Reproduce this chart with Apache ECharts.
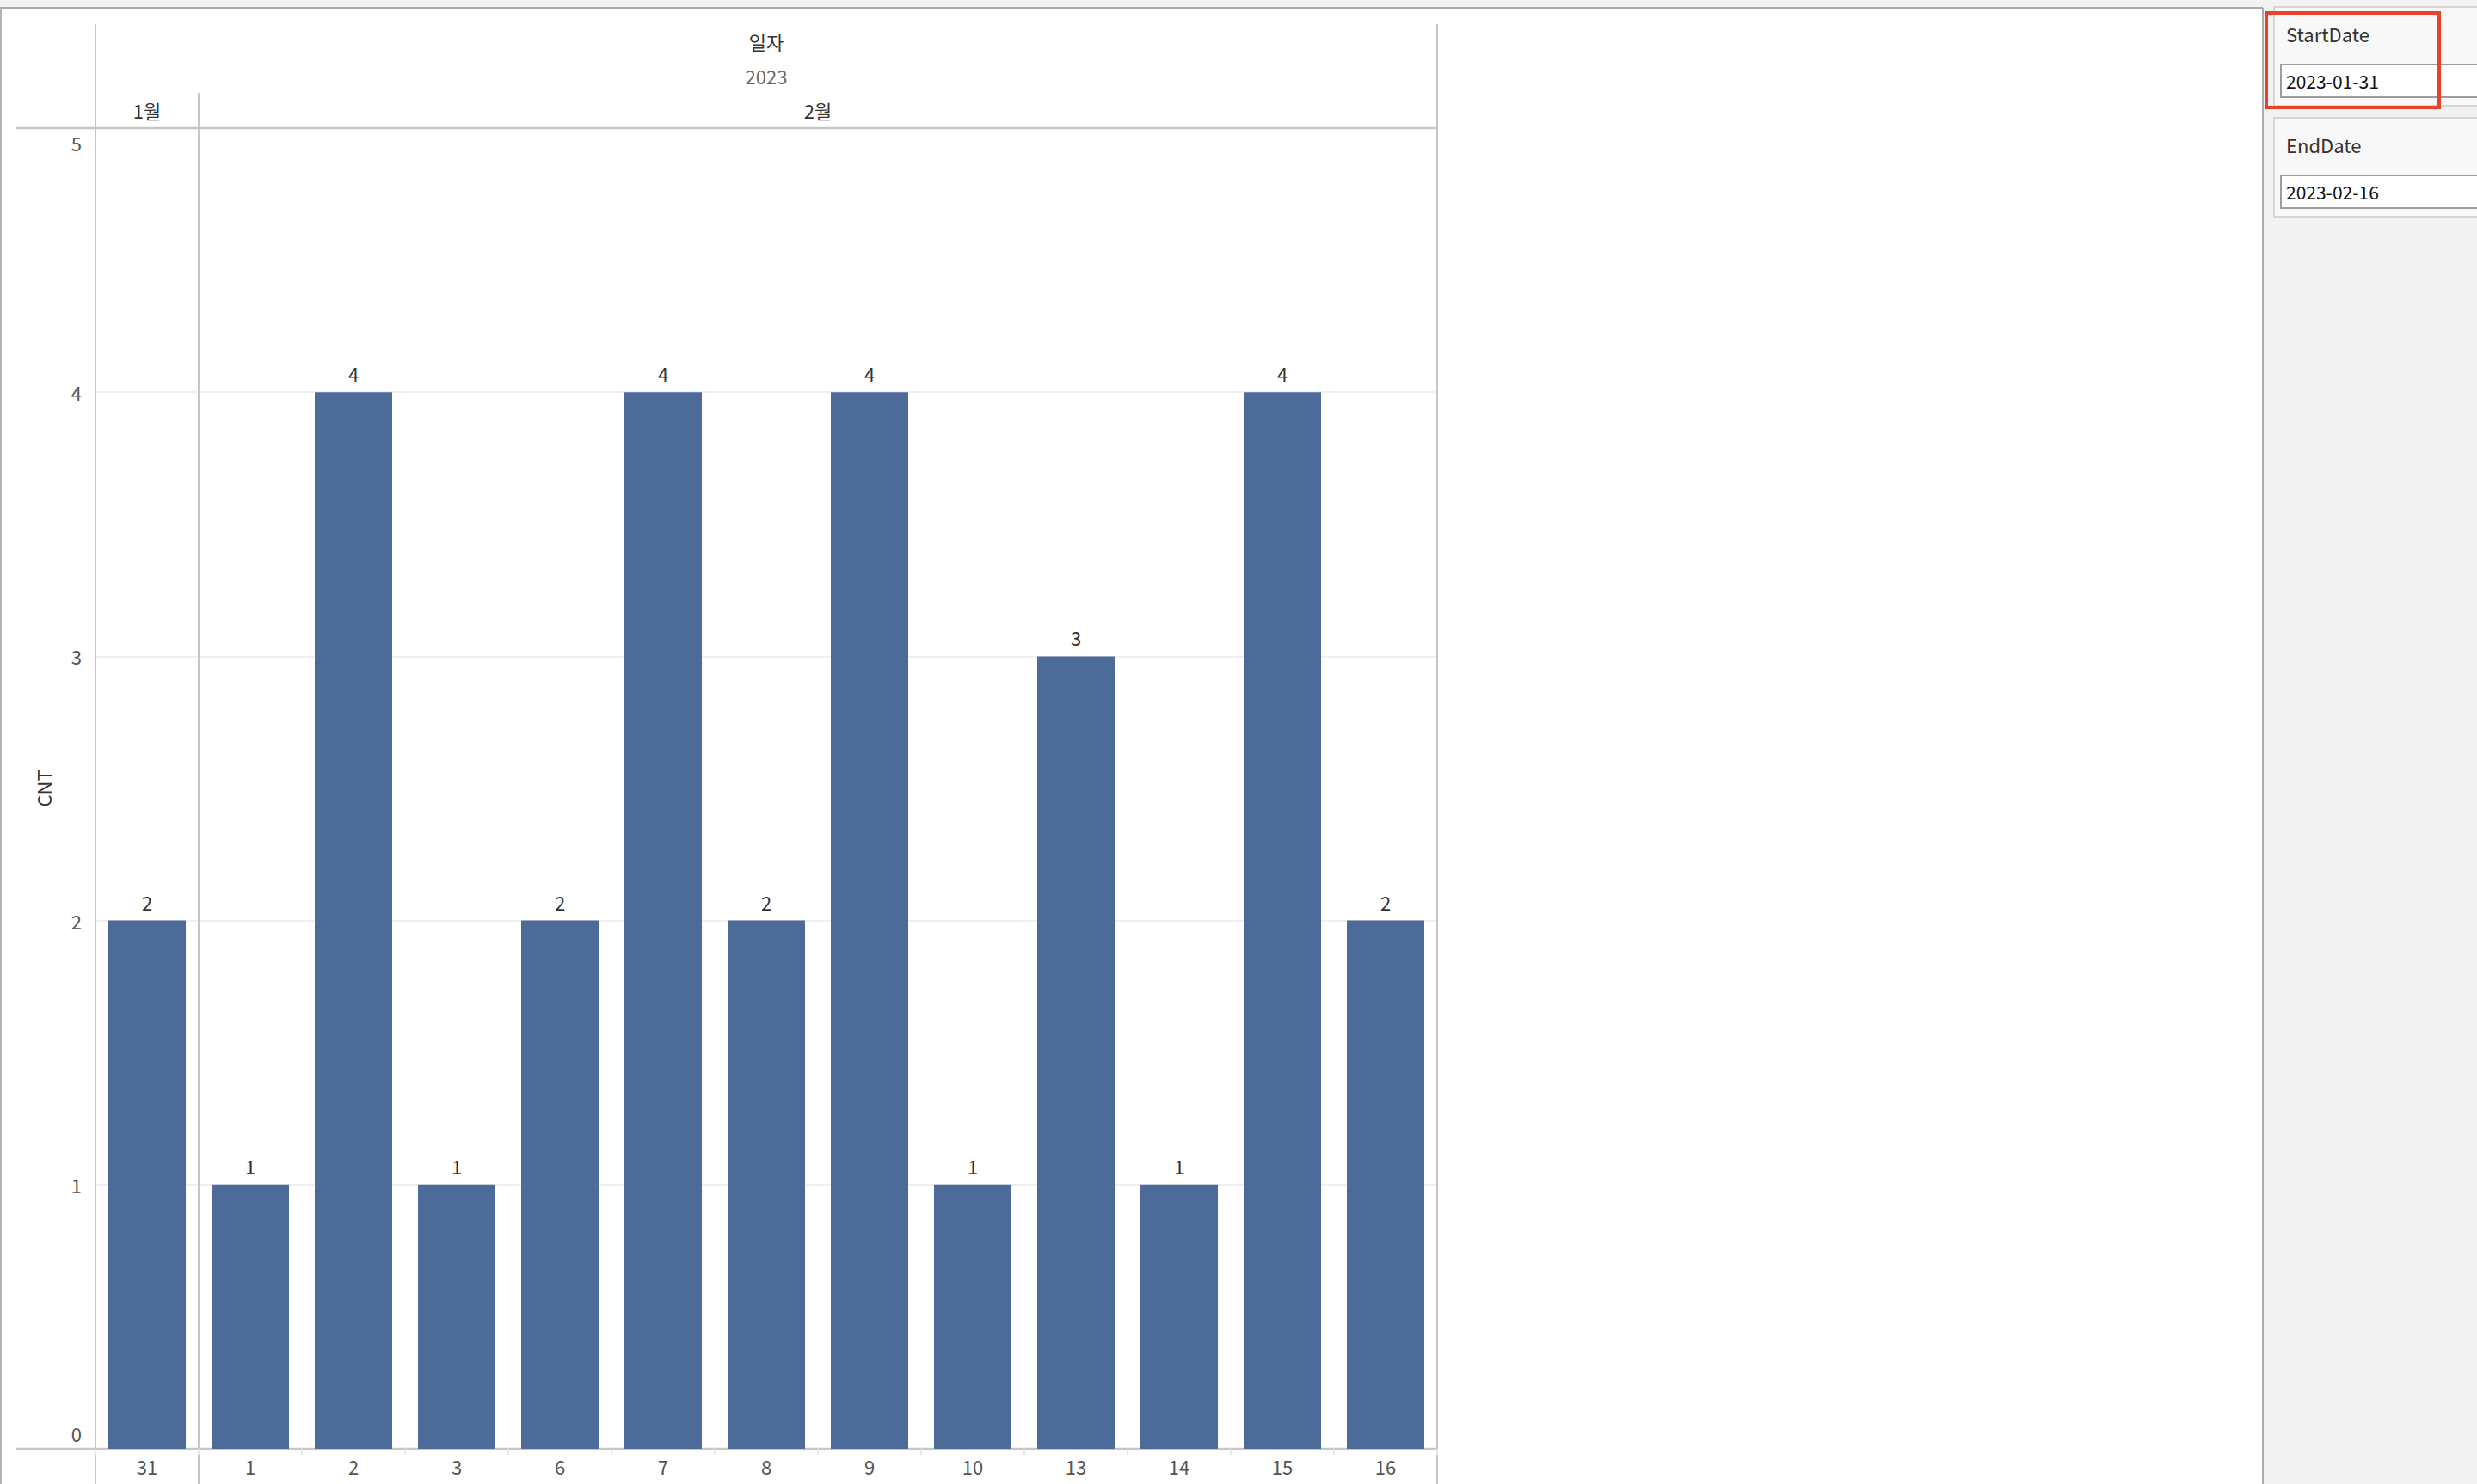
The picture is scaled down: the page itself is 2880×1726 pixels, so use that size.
<!DOCTYPE html>
<html>
<head>
<meta charset="utf-8">
<script src="https://cdn.jsdelivr.net/npm/echarts@6/dist/echarts.min.js"></script>
<style>
html,body{margin:0;padding:0;background:#fff;}
#c{width:2880px;height:1726px;}
</style>
</head>
<body>
<div id="c"></div>
<script>
// ---- data ----
const days = ['31','1','2','3','6','7','8','9','10','13','14','15','16'];
const dayMonth = [0,1,1,1,1,1,1,1,1,1,1,1,1];
const months = ['1월','2월'];
const year = '2023';
const headerTitle = '일자';
const cnt = [2,1,4,1,2,4,2,4,1,3,1,4,2];
const yTicks = [0,1,2,3,4,5];
const startDate = '2023-01-31';
const endDate = '2023-02-16';

const FONT = "'Noto Sans CJK KR','Noto Sans',sans-serif";
const chart = echarts.init(document.getElementById('c'), null, {renderer:'svg'});

const G = {left:111, right:1671, top:149, bottom:1685};
const yMin = yTicks[0], yMax = yTicks[yTicks.length-1];

chart.setOption({
  animation:false,
  backgroundColor:'#fff',
  grid:{left:G.left, right:2880-G.right, top:G.top, bottom:1726-G.bottom, containLabel:false},
  xAxis:{
    type:'category', data:days,
    axisLine:{show:false},
    axisTick:{show:true, length:7, lineStyle:{color:'#e6e6e6', width:2}},
    axisLabel:{fontSize:22, color:'#555', margin:9, fontFamily:FONT}
  },
  yAxis:{
    type:'value', min:yMin, max:yMax, interval:1,
    name:'CNT', nameLocation:'middle', nameRotate:90, nameGap:50,
    nameTextStyle:{fontSize:22, color:'#333', fontFamily:FONT},
    axisLine:{show:false}, axisTick:{show:false},
    axisLabel:{fontSize:22, color:'#555', margin:16, fontFamily:FONT,
      verticalAlignMinLabel:'bottom', verticalAlignMaxLabel:'top',
      formatter: v => v===yMin ? '{lo|'+v+'}' : (v===yMax ? '{hi|'+v+'}' : String(v)),
      rich:{
        lo:{fontSize:22, color:'#555', fontFamily:FONT, padding:[0,0,7,0]},
        hi:{fontSize:22, color:'#555', fontFamily:FONT, padding:[6,0,0,0]}
      }},
    splitLine:{show:true, lineStyle:{color:'#efefef', width:2}}
  },
  series:[{
    type:'bar', data:cnt, barWidth:'75%',
    itemStyle:{color:'#4d6b99'},
    label:{show:true, position:'top', distance:11, fontSize:22, color:'#333', fontFamily:FONT}
  }]
});

// header positions derived from the axis
const px = i => chart.convertToPixel({xAxisIndex:0}, i);
const band = px(1) - px(0);
const left = px(0) - band/2, right = px(days.length-1) + band/2;
const lineC = '#c6c6c6';
const els = [];
// outer chrome
els.push({type:'rect', shape:{x:0,y:0,width:2631,height:9}, style:{fill:'#f2f2f2'}, silent:true});
els.push({type:'rect', shape:{x:2631,y:0,width:249,height:1726}, style:{fill:'#f2f2f2'}, silent:true});
els.push({type:'line', shape:{x1:0,y1:9,x2:2631,y2:9}, style:{stroke:'#a9a9a9', lineWidth:2}});
els.push({type:'line', shape:{x1:1,y1:9,x2:1,y2:1726}, style:{stroke:'#b3b3b3', lineWidth:2}});
els.push({type:'line', shape:{x1:2631,y1:9,x2:2631,y2:1726}, style:{stroke:'#ababab', lineWidth:2}});
// frame
els.push({type:'line', shape:{x1:left,y1:28,x2:left,y2:1726}, style:{stroke:lineC, lineWidth:2}});
els.push({type:'line', shape:{x1:right,y1:28,x2:right,y2:1726}, style:{stroke:lineC, lineWidth:2}});
els.push({type:'line', shape:{x1:19,y1:G.top,x2:right,y2:G.top}, style:{stroke:lineC, lineWidth:2.5}});
els.push({type:'line', shape:{x1:19,y1:G.bottom,x2:right,y2:G.bottom}, style:{stroke:lineC, lineWidth:2.5}});
// header texts
const mid = (left+right)/2;
els.push({type:'text', x:mid, y:48, style:{text:headerTitle, fontSize:22, fill:'#333', fontFamily:FONT, align:'center', verticalAlign:'middle'}});
els.push({type:'text', x:mid, y:88, style:{text:year, fontSize:22, fill:'#666', fontFamily:FONT, align:'center', verticalAlign:'middle'}});
months.forEach((m, mi) => {
  const idx = dayMonth.map((v,i)=>v===mi?i:-1).filter(i=>i>=0);
  const a = px(idx[0]) - band/2, b = px(idx[idx.length-1]) + band/2;
  els.push({type:'text', x:(a+b)/2, y:128, style:{text:m, fontSize:22, fill:'#333', fontFamily:FONT, align:'center', verticalAlign:'middle'}});
  if (mi > 0) els.push({type:'line', shape:{x1:a,y1:108,x2:a,y2:1726}, style:{stroke:lineC, lineWidth:2}});
});
// filter panels
function panel(y, label, value){
  els.push({type:'rect', shape:{x:2644,y:y,width:260,height:115}, style:{fill:'#f8f8f8', stroke:'#d6d6d6', lineWidth:2}});
  els.push({type:'text', x:2658, y:y+31, style:{text:label, fontSize:22, fill:'#333', fontFamily:FONT, verticalAlign:'middle'}});
  els.push({type:'rect', shape:{x:2652,y:y+67,width:250,height:38}, style:{fill:'#fff', stroke:'#9c9c9c', lineWidth:2}});
  els.push({type:'text', x:2658, y:y+86, style:{text:value, fontSize:21, fill:'#111', fontFamily:FONT, verticalAlign:'middle'}});
}
panel(8, 'StartDate', startDate);
panel(137, 'EndDate', endDate);
els.push({type:'rect', shape:{x:2635,y:15,width:201,height:110}, style:{fill:'none', stroke:'#e6432a', lineWidth:4}});
chart.setOption({graphic:{elements:els}});
</script>
</body>
</html>
